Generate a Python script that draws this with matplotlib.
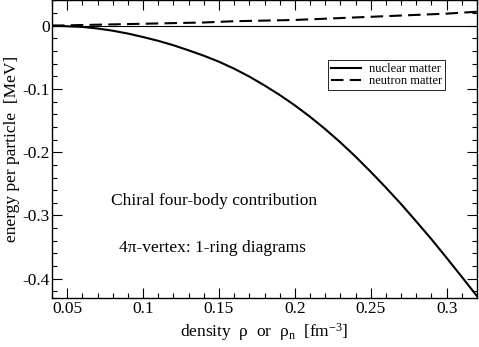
import matplotlib
matplotlib.use("Agg")
import matplotlib.pyplot as plt
from matplotlib.ticker import MultipleLocator

plt.rcParams['font.family'] = ['Liberation Serif', 'DejaVu Serif']
plt.rcParams['mathtext.fontset'] = 'custom'
plt.rcParams['mathtext.rm'] = 'Liberation Serif'
plt.rcParams['mathtext.it'] = 'Liberation Serif:italic'
plt.rcParams['axes.unicode_minus'] = False

density = [0.04, 0.05, 0.06, 0.07, 0.08, 0.09, 0.10, 0.11, 0.12, 0.13, 0.14,
           0.15, 0.16, 0.17, 0.18, 0.19, 0.20, 0.21, 0.22, 0.23, 0.24, 0.25,
           0.26, 0.27, 0.28, 0.29, 0.30, 0.31, 0.32]
nuclear = [0.000, -0.001, -0.002, -0.0045, -0.008, -0.0125, -0.018, -0.024,
           -0.031, -0.039, -0.0475, -0.057, -0.068, -0.0805, -0.0945, -0.1095,
           -0.126, -0.144, -0.1635, -0.1845, -0.207, -0.231, -0.256, -0.282,
           -0.3095, -0.3375, -0.367, -0.397, -0.4275]
density_n = [0.04, 0.06, 0.08, 0.10, 0.12, 0.14, 0.16, 0.18, 0.20, 0.22,
             0.24, 0.26, 0.28, 0.30, 0.32]
neutron = [0.000, 0.001, 0.002, 0.003, 0.004, 0.005, 0.007, 0.008, 0.009,
           0.011, 0.013, 0.015, 0.017, 0.019, 0.022]

xticks = [0.05, 0.1, 0.15, 0.2, 0.25, 0.3]
xticklabels = ['0.05', '0.1', '0.15', '0.2', '0.25', '0.3']
yticks = [0, -0.1, -0.2, -0.3, -0.4]
yticklabels = ['0', '-0.1', '-0.2', '-0.3', '-0.4']

fig = plt.figure(figsize=(4.79, 3.47), dpi=100)
ax = fig.add_axes([0.1086, 0.142, 0.8872, 0.857])

ax.axhline(0, color='black', lw=0.8)
ax.plot(density, nuclear, color='black', lw=1.5, label='nuclear matter')
ax.plot(density_n, neutron, color='black', lw=1.5, dashes=(6, 3),
        label='neutron matter')

ax.set_xlim(0.04, 0.32)
ax.set_ylim(-0.43, 0.04)
ax.set_xticks(xticks)
ax.set_xticklabels(xticklabels)
ax.set_yticks(yticks)
ax.set_yticklabels(yticklabels)
ax.xaxis.set_minor_locator(MultipleLocator(0.01))
ax.yaxis.set_minor_locator(MultipleLocator(0.02))
ax.tick_params(which='both', direction='in', top=True, right=True,
               labelsize=12.5, width=0.8)
ax.tick_params(axis='x', pad=2)
ax.tick_params(axis='y', pad=1.5)
ax.tick_params(which='major', length=7.2)
ax.tick_params(which='minor', length=3.6)
for s in ax.spines.values():
    s.set_linewidth(1.0)

ax.set_xlabel(r'density  ρ  or  ρ$_{\mathrm{n}}$  [fm$^{\mathrm{-3}}$]',
              fontsize=12.5, labelpad=3)
ax.set_ylabel('energy per particle  [MeV]', fontsize=12.5, labelpad=2)

ax.text(0.147, -0.277, 'Chiral four-body contribution', fontsize=12.5,
        ha='center', va='center')
ax.text(0.146, -0.352, '4π-vertex: 1-ring diagrams', fontsize=12.5,
        ha='center', va='center')

leg = ax.legend(loc='upper left', bbox_to_anchor=(0.649, 0.80),
                fontsize=9, frameon=True, fancybox=False, edgecolor='black',
                framealpha=1, handlelength=2.4, handletextpad=0.65,
                labelspacing=0.0, borderpad=0.25, borderaxespad=0)
leg.get_frame().set_linewidth(0.6)

fig.savefig('out.png', dpi=100)
